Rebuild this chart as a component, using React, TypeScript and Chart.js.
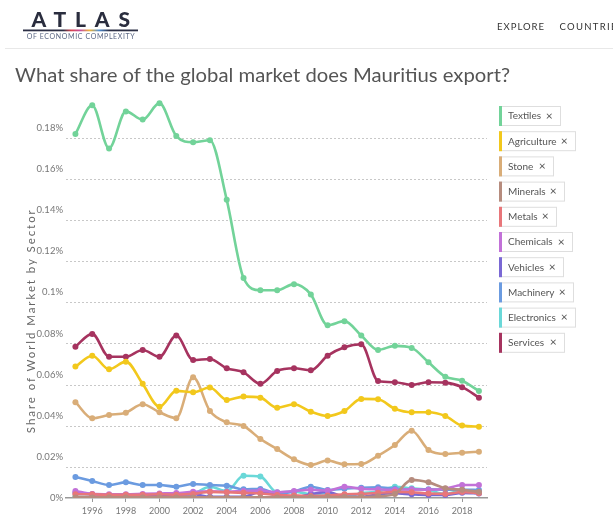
import React, { useEffect, useRef } from "react";
import { Chart, registerables } from "chart.js";

Chart.register(...registerables);

const years = [1995, 1996, 1997, 1998, 1999, 2000, 2001, 2002, 2003, 2004, 2005, 2006, 2007, 2008, 2009, 2010, 2011, 2012, 2013, 2014, 2015, 2016, 2017, 2018, 2019];
const xTickYears = [1996, 1998, 2000, 2002, 2004, 2006, 2008, 2010, 2012, 2014, 2016, 2018];
const yTickValues = [0, 0.02, 0.04, 0.06, 0.08, 0.1, 0.12, 0.14, 0.16, 0.18];

const sectors = ["Textiles", "Agriculture", "Stone", "Minerals", "Metals", "Chemicals", "Vehicles", "Machinery", "Electronics", "Services"];
const sectorColors = ["#72d399", "#f2c81c", "#d9ad78", "#b68c7e", "#e8767a", "#c271d8", "#7a68d4", "#6b9be0", "#6ad8d8", "#a6335f"];

// share of world market, in percent
const textiles = [0.177, 0.191, 0.170, 0.188, 0.184, 0.192, 0.176, 0.173, 0.174, 0.145, 0.107, 0.101, 0.101, 0.104, 0.099, 0.084, 0.086, 0.079, 0.072, 0.074, 0.073, 0.066, 0.059, 0.057, 0.052];
const agriculture = [0.0639, 0.0692, 0.0626, 0.0663, 0.0555, 0.0444, 0.0521, 0.0514, 0.0537, 0.0477, 0.0493, 0.0488, 0.0439, 0.0456, 0.042, 0.0399, 0.0423, 0.0482, 0.048, 0.0434, 0.0417, 0.0417, 0.0399, 0.0352, 0.0347];
const stone = [0.0466, 0.0388, 0.0404, 0.0415, 0.0456, 0.0417, 0.0388, 0.0587, 0.0423, 0.0368, 0.035, 0.0287, 0.0238, 0.0188, 0.0161, 0.0182, 0.0164, 0.0165, 0.0206, 0.0258, 0.0327, 0.0234, 0.0214, 0.022, 0.0225];
const minerals = [0.0003, 0.0003, 0.0003, 0.0003, 0.0003, 0.0003, 0.0003, 0.0003, 0.0003, 0.0003, 0.0003, 0.0003, 0.0003, 0.0003, 0.0005, 0.0005, 0.0005, 0.0005, 0.0008, 0.002, 0.0088, 0.0076, 0.0047, 0.004, 0.003];
const metals = [0.0018, 0.0018, 0.0015, 0.0016, 0.0016, 0.0018, 0.0016, 0.002, 0.003, 0.0028, 0.0025, 0.0022, 0.0015, 0.0012, 0.001, 0.0012, 0.0018, 0.002, 0.0025, 0.003, 0.0028, 0.0022, 0.002, 0.0029, 0.0023];
const chemicals = [0.0034, 0.002, 0.0018, 0.0018, 0.002, 0.0022, 0.0024, 0.003, 0.0032, 0.003, 0.0034, 0.0036, 0.0028, 0.0034, 0.004, 0.0036, 0.0055, 0.0045, 0.0042, 0.004, 0.0042, 0.004, 0.0045, 0.0063, 0.0063];
const vehicles = [0.0025, 0.0018, 0.0015, 0.0015, 0.0015, 0.0016, 0.0016, 0.0018, 0.0006, 0.0006, 0.0006, 0.003, 0.0012, 0.0005, 0.0018, 0.003, 0.0006, 0.0006, 0.0018, 0.0023, 0.0018, 0.0015, 0.0015, 0.0025, 0.0022];
const machinery = [0.0102, 0.0083, 0.0063, 0.0076, 0.0063, 0.0063, 0.0055, 0.0068, 0.0063, 0.006, 0.0042, 0.0044, 0.0023, 0.0031, 0.0055, 0.0039, 0.0045, 0.005, 0.0052, 0.0045, 0.0042, 0.0042, 0.004, 0.004, 0.0039];
const electronics = [0.0006, 0.0006, 0.0006, 0.0006, 0.0006, 0.0006, 0.0006, 0.0018, 0.0055, 0.0034, 0.0108, 0.0104, 0.0028, 0.0031, 0.0019, 0.0023, 0.0006, 0.0023, 0.0031, 0.0055, 0.0047, 0.0039, 0.0019, 0.0037, 0.0028];
const services = [0.0736, 0.0798, 0.0687, 0.0687, 0.072, 0.0687, 0.079, 0.0671, 0.0676, 0.0631, 0.0611, 0.0555, 0.0618, 0.0631, 0.0621, 0.0692, 0.0733, 0.0748, 0.0569, 0.0563, 0.055, 0.0563, 0.0561, 0.0539, 0.0488];

const seriesValues = [textiles, agriculture, stone, minerals, metals, chemicals, vehicles, machinery, electronics, services];
const legendWidths = [62, 77, 55, 66, 58, 74, 65, 75, 77, 66];

const FONT = "Lato, 'Open Sans', sans-serif";

export default function App() {
  const canvasRef = useRef<HTMLCanvasElement | null>(null);

  useEffect(() => {
    document.body.style.margin = "0";
    const canvas = canvasRef.current;
    if (!canvas) return;

    const offsetGrid = {
      id: "offsetGrid",
      beforeDatasetsDraw(chart: any) {
        const { ctx, chartArea, scales } = chart;
        const y = scales.y;
        ctx.save();
        ctx.strokeStyle = "#c8c8c8";
        ctx.lineWidth = 1;
        ctx.setLineDash([2, 2]);
        yTickValues.forEach((v) => {
          if (v === 0) return;
          const py = Math.round(y.getPixelForValue(v) + 10) + 0.5;
          ctx.beginPath();
          ctx.moveTo(chartArea.left, py);
          ctx.lineTo(chartArea.right, py);
          ctx.stroke();
        });
        ctx.restore();
      },
    };

    const chart = new Chart(canvas, {
      type: "line",
      data: {
        datasets: sectors.map((name, i) => ({
          label: name,
          data: years.map((yr, j) => ({ x: yr, y: seriesValues[i][j] })),
          borderColor: sectorColors[i],
          backgroundColor: sectorColors[i],
          pointBackgroundColor: sectorColors[i],
          pointBorderWidth: 0,
          pointRadius: 3,
          borderWidth: 2.6,
          cubicInterpolationMode: "monotone" as const,
          fill: false,
        })),
      },
      options: {
        animation: false,
        responsive: false,
        maintainAspectRatio: false,
        layout: { padding: { top: 97, right: 126, left: 0, bottom: 0 } },
        plugins: { legend: { display: false }, tooltip: { enabled: false } },
        scales: {
          x: {
            type: "linear",
            min: 1994.44,
            max: 2019.48,
            afterBuildTicks: (s: any) => {
              s.ticks = xTickYears.map((v) => ({ value: v }));
            },
            afterFit: (s: any) => {
              s.height = 24;
            },
            ticks: {
              callback: (v: any) => String(v),
              font: { family: FONT, size: 9 },
              color: "#777",
              padding: 4,
              maxRotation: 0,
              autoSkip: false,
            },
            grid: { drawOnChartArea: false, drawTicks: true, tickLength: 4, color: "#999", lineWidth: 1 },
            border: { display: true, color: "#999", width: 1.5 },
          },
          y: {
            min: 0,
            max: 0.195,
            afterBuildTicks: (s: any) => {
              s.ticks = yTickValues.map((v) => ({ value: v }));
            },
            afterFit: (s: any) => {
              s.width = 66;
            },
            ticks: {
              callback: (v: any) => `${+Number(v).toFixed(2)}%`,
              font: { family: FONT, size: 9.5 },
              color: "#777",
              padding: 3,
            },
            grid: { display: false, drawTicks: false, tickLength: 0 },
            border: { display: false },
          },
        },
      },
      plugins: [offsetGrid],
    });
    return () => chart.destroy();
  }, []);

  return (
    <div style={{ position: "fixed", left: 0, top: 0, width: 613, height: 522, background: "#fff", overflow: "hidden" }}>
      <canvas ref={canvasRef} width={613} height={522} style={{ position: "absolute", left: 0, top: 0, width: 613, height: 522 }} />
      <svg width={613} height={522} style={{ position: "absolute", left: 0, top: 0, pointerEvents: "none" }}>
        <defs>
          <linearGradient id="atlasStrip" x1="0" x2="1" y1="0" y2="0">
            <stop offset="0" stopColor="#2c2f45" />
            <stop offset="0.35" stopColor="#2c2f45" />
            <stop offset="0.42" stopColor="#d9434f" />
            <stop offset="0.5" stopColor="#c34fa0" />
            <stop offset="0.58" stopColor="#f0b431" />
            <stop offset="0.66" stopColor="#4f8fd6" />
            <stop offset="0.75" stopColor="#2c2f45" />
            <stop offset="1" stopColor="#2c2f45" />
          </linearGradient>
        </defs>
        <text x={31.5} y={26.7} fontFamily={FONT} fontWeight={900} fontSize={21} fill="#2a2d3e" textLength={98.5} lengthAdjust="spacing">ATLAS</text>
        <rect x={23} y={29.5} width={115} height={1.8} fill="url(#atlasStrip)" />
        <text x={26.7} y={39} fontFamily={FONT} fontSize={7} fill="#5b6784" textLength={108} lengthAdjust="spacing">OF ECONOMIC COMPLEXITY</text>
        <text x={497} y={30} fontFamily={FONT} fontSize={9.5} fill="#333" textLength={47} lengthAdjust="spacing">EXPLORE</text>
        <text x={559.5} y={30} fontFamily={FONT} fontSize={9.5} fill="#333" letterSpacing={1.3}>COUNTRIES</text>
        <rect x={5} y={48} width={608} height={1} fill="#e8e8e8" />
        <text x={15} y={81.7} fontFamily={FONT} fontSize={19.5} fill="#555" textLength={495} lengthAdjust="spacingAndGlyphs">What share of the global market does Mauritius export?</text>
        <text x={0} y={0} transform="translate(30.5 321.7) rotate(-90)" textAnchor="middle" dominantBaseline="central" fontFamily={FONT} fontSize={11.5} fill="#666" textLength={223} lengthAdjust="spacing">Share of World Market by Sector</text>
        {sectors.map((name, i) => {
          const y0 = 106 + i * 25.2;
          const w = legendWidths[i];
          return (
            <g key={name}>
              <rect x={499.5} y={y0 + 0.5} width={w - 1} height={19} fill="#fff" stroke="#dedede" strokeWidth={1} />
              <rect x={499} y={y0} width={3} height={20} fill={sectorColors[i]} />
              <text x={508} y={y0 + 13.3} fontFamily={FONT} fontSize={10} fill="#555">{name}</text>
              <text x={499 + w - 11.7} y={y0 + 13.5} textAnchor="middle" fontFamily={FONT} fontSize={12} fill="#555">×</text>
            </g>
          );
        })}
      </svg>
    </div>
  );
}
